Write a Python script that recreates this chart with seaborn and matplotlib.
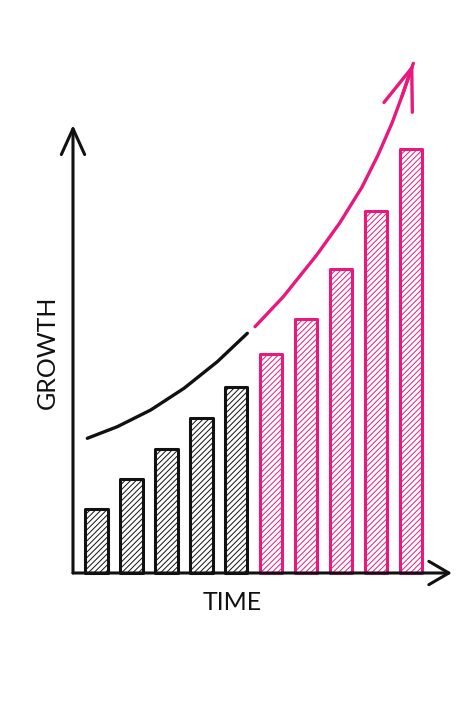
import numpy as np
import matplotlib
matplotlib.use("Agg")
import matplotlib.pyplot as plt
import seaborn as sns
import pandas as pd

# bar heights (growth units)
periods = list(range(10))
growth = [6.4, 9.4, 12.4, 15.5, 18.6, 21.9, 25.4, 30.4, 36.2, 42.4]
phase = ["past"] * 5 + ["future"] * 5

# trend curve, split in a black part and a pink part
past_x = [-0.263, 0.595, 1.551, 2.504, 3.457, 4.316]
past_y = [13.47, 14.63, 16.3, 18.47, 21.13, 23.97]
future_x = [4.536, 5.346, 6.302, 6.969, 7.599, 8.057, 8.458, 8.744, 9.067]
future_y = [24.63, 27.63, 31.8, 35.05, 38.6, 41.8, 45.0, 47.7, 50.97]

ink = "#111111"
pink = "#e8197d"

sns.set_theme(style="white")
plt.rcParams['font.family'] = ['Lato', 'DejaVu Sans']
plt.rcParams['hatch.linewidth'] = 0.7

df = pd.DataFrame({"period": periods, "growth": growth, "phase": phase})

fig = plt.figure(figsize=(4.71, 7.06), dpi=100)
ax = fig.add_axes([0, 0, 1, 1])

sns.barplot(data=df, x="period", y="growth", color="white", width=0.64,
            ax=ax)
for patch, ph in zip(ax.patches, df["phase"]):
    col = ink if ph == "past" else pink
    patch.set_edgecolor(col)
    patch.set_facecolor("white")
    patch.set_linewidth(2.2)
    patch.set_hatch("//////")
    patch.set_joinstyle("round")

# trend line
ax.plot(past_x, past_y, color=ink, lw=2.4, solid_capstyle="round", solid_joinstyle="round")
ax.plot(future_x, future_y, color=pink, lw=2.4, solid_capstyle="round", solid_joinstyle="round")
ax.annotate("", xy=(future_x[-1], future_y[-1]), xytext=(future_x[-2], future_y[-2]),
            arrowprops=dict(arrowstyle="->,head_length=2.5,head_width=0.9", color=pink, lw=2.4,
                            shrinkA=0, shrinkB=0, capstyle="round", joinstyle="round"))

# hand drawn axes with arrows
x0 = -0.673
ax.annotate("", xy=(x0, 44.8), xytext=(x0, 0),
            arrowprops=dict(arrowstyle="->,head_length=1.55,head_width=0.7", color=ink, lw=2.2,
                            shrinkA=0, shrinkB=0, capstyle="round", joinstyle="round"))
ax.annotate("", xy=(10.17, 0), xytext=(x0, 0),
            arrowprops=dict(arrowstyle="->,head_length=1.2,head_width=0.7", color=ink, lw=2.2,
                            shrinkA=0, shrinkB=0, capstyle="round", joinstyle="round"))

ax.text(3.88, -3.0, "TIME", ha="center", va="center", fontsize=18, color=ink)
ax.text(-1.417, 22.1, "GROWTH", ha="center", va="center", rotation=90, fontsize=18, color=ink)

ax.set_xlim(-2.762, 10.717)
ax.set_ylim(-13.3, 57.3)
ax.set_axis_off()

fig.savefig("out.png", dpi=100, facecolor="white")
